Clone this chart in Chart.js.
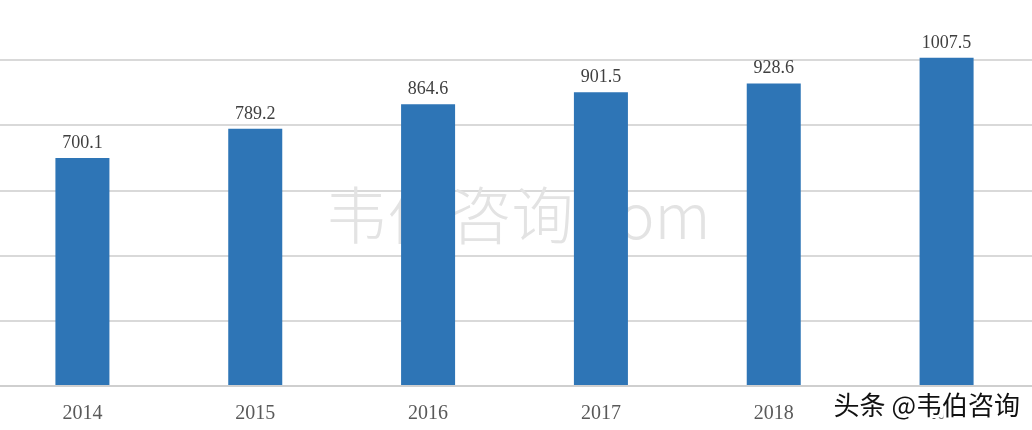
<!DOCTYPE html>
<html>
<head>
<meta charset="utf-8">
<script src="https://cdn.jsdelivr.net/npm/chart.js@4"></script>
<style>
    html, body { margin: 0; padding: 0; background: #fff; overflow: hidden; }
    #wrap { position: absolute; left: -4px; top: -5px; width: 1037px; height: 439px; }
</style>
</head>
<body>
<div id="wrap"><canvas id="chart"></canvas></div>
<script>
// Chart data
const years = ['2014', '2015', '2016', '2017', '2018', '2019'];
const values = [700.1, 789.2, 864.6, 901.5, 928.6, 1007.5];
const yTicks = [0, 200, 400, 600, 800, 1000, 1200];

const barColor = '#2e75b6';
const gridColor = '#d9d9d9';

// Value labels above each bar
const valueLabels = {
    id: 'valueLabels',
    afterDatasetsDraw(chart) {
        const ctx = chart.ctx;
        const meta = chart.getDatasetMeta(0);
        ctx.save();
        ctx.font = '18px "Liberation Serif", serif';
        ctx.fillStyle = '#404040';
        ctx.textAlign = 'center';
        ctx.textBaseline = 'alphabetic';
        meta.data.forEach((bar, i) => {
            const p = bar.getProps(['x', 'y'], true);
            ctx.fillText(values[i].toFixed(1), p.x, p.y - 10);
        });
        ctx.restore();
    }
};

// Watermarks: faint one behind the bars, signature in the corner on top
const watermarks = {
    id: 'watermarks',
    beforeDatasetsDraw(chart) {
        const ctx = chart.ctx;
        ctx.save();
        ctx.font = '300 62px "Noto Sans CJK SC", sans-serif';
        ctx.fillStyle = '#e3e3e3';
        ctx.textAlign = 'center';
        ctx.textBaseline = 'middle';
        ctx.fillText('韦伯咨询.com', 522, 220);
        ctx.restore();
    },
    afterDraw(chart) {
        const ctx = chart.ctx;
        ctx.save();
        ctx.font = '26px "Noto Sans CJK SC", sans-serif';
        ctx.textAlign = 'right';
        ctx.textBaseline = 'middle';
        ctx.lineJoin = 'round';
        ctx.lineWidth = 6;
        ctx.strokeStyle = '#ffffff';
        ctx.strokeText('头条 @韦伯咨询', 1024, 410);
        ctx.fillStyle = '#111111';
        ctx.fillText('头条 @韦伯咨询', 1024, 410);
        ctx.restore();
    }
};

new Chart(document.getElementById('chart'), {
    type: 'bar',
    data: {
        labels: years,
        datasets: [{
            data: values,
            backgroundColor: barColor,
            categoryPercentage: 1,
            barPercentage: 0.3125
        }]
    },
    options: {
        responsive: true,
        maintainAspectRatio: false,
        animation: false,
        layout: { padding: 0 },
        plugins: {
            legend: { display: false },
            tooltip: { enabled: false }
        },
        scales: {
            x: {
                grid: { display: false },
                border: { display: true, color: '#cfcfcf', width: 2 },
                ticks: {
                    padding: 8,
                    color: '#595959',
                    font: { family: '"Liberation Serif", serif', size: 20 }
                }
            },
            y: {
                min: 0,
                max: 1200,
                afterBuildTicks(scale) {
                    scale.ticks = yTicks.map(v => ({ value: v }));
                },
                grid: { color: gridColor, lineWidth: 2, drawTicks: false },
                border: { display: false },
                ticks: { display: false }
            }
        }
    },
    plugins: [watermarks, valueLabels]
});
</script>
</body>
</html>
